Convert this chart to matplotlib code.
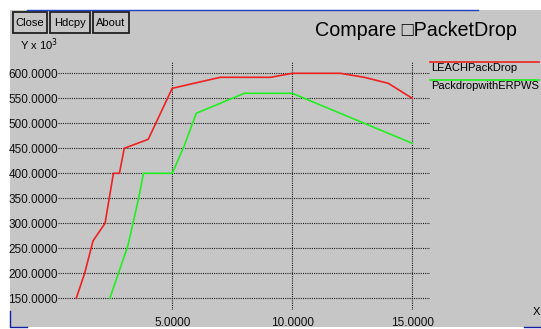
#! /usr/bin/env python3
# xgraph style comparison of packet drop
import matplotlib
matplotlib.use("Agg")
import matplotlib.pyplot as plt
from matplotlib.patches import Rectangle
from matplotlib.lines import Line2D

plt.rcParams['font.family'] = ['Liberation Sans', 'DejaVu Sans']

# data (x, Y x 10^3)
leach_x = [1.0, 1.35, 1.7, 2.2, 2.55, 2.8, 3.0, 4.0, 5.0, 7.0, 9.1, 10.0, 12.0, 13.0, 14.0, 15.0]
leach_y = [150, 200, 265, 300, 400, 400, 450, 468, 570, 592, 592, 600, 600, 592, 580, 550]
erpws_x = [2.4, 3.15, 3.6, 3.8, 5.0, 5.5, 6.0, 8.0, 10.0, 12.0, 15.0]
erpws_y = [150, 255, 350, 400, 400, 455, 520, 560, 560, 520, 460]

yticks = [150, 200, 250, 300, 350, 400, 450, 500, 550, 600]
xticks = [5, 10, 15]

W, H = 541, 329
bg = '#c6c6c6'

fig = plt.figure(figsize=(W / 100, H / 100), dpi=100, facecolor='white')

def fx(px):
    return px / W

def fy(py):
    return 1 - py / H

# grey window
fig.patches.append(Rectangle((fx(10), fy(327)), fx(531), 317 / H,
                             transform=fig.transFigure, facecolor=bg,
                             edgecolor='none', zorder=-5))
# window border bits
fig.lines.append(Line2D([fx(27), fx(478)], [fy(10), fy(10)], transform=fig.transFigure,
                        color='#2040c0', lw=1))
fig.lines.append(Line2D([fx(10), fx(10), fx(27)], [fy(311), fy(327), fy(327)],
                        transform=fig.transFigure, color='#1020a0', lw=1))
fig.lines.append(Line2D([fx(524), fx(541)], [fy(327), fy(327)], transform=fig.transFigure,
                        color='#1020a0', lw=1))

# buttons
for label, x0, x1 in [('Close', 13, 47), ('Hdcpy', 50, 90), ('About', 93, 129)]:
    fig.patches.append(Rectangle((fx(x0), fy(33)), fx(x1 - x0), 21 / H,
                                 transform=fig.transFigure, facecolor=bg,
                                 edgecolor='#202020', lw=1.3))
    fig.text(fx((x0 + x1) / 2), fy(23), label, ha='center', va='center', fontsize=8)

fig.text(fx(315), fy(31), 'Compare \u25a1PacketDrop', ha='left', va='center', fontsize=14.2)
fig.text(fx(20), fy(45), 'Y x 10$^3$', ha='left', va='center', fontsize=8)
fig.text(fx(536), fy(312), 'X', ha='center', va='center', fontsize=8)

ax = fig.add_axes([fx(58), fy(310), fx(430 - 58), (310 - 62) / H])
ax.set_zorder(2)
ax.set_facecolor('none')
for s in ax.spines.values():
    s.set_visible(False)

ax.plot(leach_x, leach_y, color='#ee2222', lw=1.2)
ax.plot(erpws_x, erpws_y, color='#22ee22', lw=1.2)

ax.set_xlim(0.24, 15.74)
ax.set_ylim(126.6, 622.6)
ax.set_xticks(xticks)
ax.set_xticklabels(['%.4f' % v for v in xticks])
ax.set_yticks(yticks)
ax.set_yticklabels(['%.4f' % v for v in yticks])
ax.tick_params(length=0, labelsize=8.5, colors='#101010')
ax.tick_params(axis='x', pad=5)
ax.tick_params(axis='y', pad=0)
ax.grid(True, color='#202020', linestyle=(0, (1, 1)), lw=0.8)

# legend drawn like xgraph
fig.lines.append(Line2D([fx(430), fx(539)], [fy(62), fy(62)], transform=fig.transFigure,
                        color='#ee2222', lw=1.2))
fig.text(fx(431), fy(68), 'LEACHPackDrop', ha='left', va='center', fontsize=8)
fig.lines.append(Line2D([fx(430), fx(539)], [fy(80), fy(80)], transform=fig.transFigure,
                        color='#22ee22', lw=1.2))
fig.text(fx(431), fy(86), 'PackdropwithERPWS', ha='left', va='center', fontsize=8)

fig.savefig('out.png', dpi=100, facecolor='white')
